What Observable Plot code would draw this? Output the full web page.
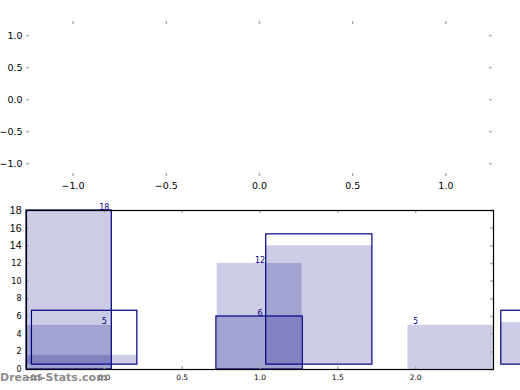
<!DOCTYPE html>
<html><head><meta charset="utf-8">
<script src="https://cdn.jsdelivr.net/npm/d3@7"></script>
<script src="https://cdn.jsdelivr.net/npm/@observablehq/plot@0.6"></script>
<style>
body{margin:0;background:#fff;}
#wrap{position:relative;width:520px;height:390px;overflow:hidden;background:#fff;}
#top,#bottom{position:absolute;left:0;}
#top{top:0}
#bottom{top:195px}
#wm{position:absolute;left:0;top:372px;font:bold 11px/11px "DejaVu Sans";color:#8c8c8c;white-space:nowrap}
</style></head><body>
<div id="wrap"><div id="top"></div><div id="bottom"></div><div id="wm">Dream-Stats.com</div></div>
<script>
// ---- data ----
const topXTicks = [-1.0, -0.5, 0.0, 0.5, 1.0];
const topYTicks = [1.0, 0.5, 0.0, -0.5, -1.0];
const botXTicks = [0.0, 0.5, 1.0, 1.5, 2.0];
const botXTickFirst = [-0.5];
const botYTicksLarge = [14, 16, 18];
const botYTicksSmall = [0, 2, 4, 6, 8, 10, 12];
const botYTicksAll = [0, 2, 4, 6, 8, 10, 12, 14, 16, 18];

// translucent filled bars
const fillX1 = [-0.5, -0.5, -0.5, 0.725, 0.72, 1.04, 1.95, 2.55];
const fillX2 = [0.048, 0.048, 0.212, 1.27, 1.275, 1.722, 2.5, 2.8];
const fillY1 = [0, 0, 0.55, 0, 0, 0.55, 0, 0.55];
const fillY2 = [18, 5, 1.6, 12, 6, 14.0, 5, 5.3];

// outlined bars
const lineX1 = [-0.5, -0.465, 0.72, 1.04, 2.55];
const lineX2 = [0.048, 0.212, 1.275, 1.722, 2.8];
const lineY1 = [0, 0.55, 0, 0.55, 0.55];
const lineY2 = [18, 6.65, 6, 15.3, 6.65];

// value labels
const labelX = [0, 0, 1, 1, 2];
const labelY = [18, 5, 12, 6, 5];
const labelText = ["18", "5", "12", "6", "5"];

// ---- drawing ----
const fmt1 = d3.format(".1f");
const tickColor = "#b0b0b0";
const navy = "#000080";

// top panel
const TW = 520, TH = 200, tm = {top: 21, right: 28, bottom: 24, left: 26};
const tfw = TW - tm.left - tm.right, tfh = TH - tm.top - tm.bottom;
const topPlot = Plot.plot({
  width: TW, height: TH,
  marginTop: tm.top, marginRight: tm.right, marginBottom: tm.bottom, marginLeft: tm.left,
  x: {domain: [-1.25, 1.25]},
  y: {domain: [-1.2, 1.22]},
  style: {fontFamily: "DejaVu Sans", fontSize: "9.5px", color: "#000", background: "transparent", overflow: "visible"},
  marks: [
    Plot.tickX(topXTicks, {x: d => d, stroke: tickColor, strokeWidth: 1.5, insetBottom: tfh - 3}),
    Plot.tickX(topXTicks, {x: d => d, stroke: tickColor, strokeWidth: 1.5, insetTop: tfh - 3}),
    Plot.tickY(topYTicks, {y: d => d, stroke: tickColor, strokeWidth: 1.5, insetRight: tfw - 3}),
    Plot.tickY(topYTicks, {y: d => d, stroke: tickColor, strokeWidth: 1.5, insetLeft: tfw - 3}),
    Plot.axisX({ticks: topXTicks, tickSize: 0, tickPadding: 6, tickFormat: fmt1, fill: "#000"}),
    Plot.axisY({ticks: topYTicks, tickSize: 0, tickPadding: 4, tickFormat: fmt1, fill: "#000"})
  ]
});
document.getElementById("top").append(topPlot);

// bottom panel
const BW = 520, BH = 195, bm = {top: 15, right: 27, bottom: 21, left: 26};
const bfw = BW - bm.left - bm.right, bfh = BH - bm.top - bm.bottom;
const fillIdx = d3.range(fillX1.length);
const lineIdx = d3.range(lineX1.length);
const labIdx = d3.range(labelX.length);
const botPlot = Plot.plot({
  width: BW, height: BH,
  marginTop: bm.top, marginRight: bm.right, marginBottom: bm.bottom, marginLeft: bm.left,
  x: {domain: [-0.5, 2.5]},
  y: {domain: [0, 18]},
  style: {fontFamily: "DejaVu Sans", fontSize: "8px", color: "#000", background: "transparent", overflow: "visible"},
  marks: [
    Plot.rect(fillIdx, {x1: i => fillX1[i], x2: i => fillX2[i], y1: i => fillY1[i], y2: i => fillY2[i], fill: navy, fillOpacity: 0.2}),
    Plot.rect(lineIdx, {x1: i => lineX1[i], x2: i => lineX2[i], y1: i => lineY1[i], y2: i => lineY2[i], fill: "none", stroke: navy, strokeWidth: 1.2}),
    Plot.tickX(botXTicks, {x: d => d, stroke: tickColor, strokeWidth: 1.5, insetBottom: bfh - 3}),
    Plot.tickX(botXTicks, {x: d => d, stroke: tickColor, strokeWidth: 1.5, insetTop: bfh - 3}),
    Plot.tickY(botYTicksAll, {y: d => d, stroke: tickColor, strokeWidth: 1.5, insetRight: bfw - 3}),
    Plot.tickY(botYTicksAll, {y: d => d, stroke: tickColor, strokeWidth: 1.5, insetLeft: bfw - 3}),
    Plot.frame({stroke: "#000", strokeWidth: 1.2}),
    Plot.axisY({ticks: botYTicksLarge, tickSize: 0, tickPadding: 5, fontSize: 10.5, fontFamily: "Liberation Sans", fill: "#000"}),
    Plot.axisY({ticks: botYTicksSmall, tickSize: 0, tickPadding: 5, fontSize: 8, fill: "#000"}),
    Plot.axisX({ticks: botXTicks, tickSize: 0, tickPadding: 5, tickFormat: fmt1, fontSize: 7.5, fill: "#000"}),
    Plot.axisX({ticks: botXTickFirst, tickSize: 0, tickPadding: 5, tickFormat: fmt1, fontSize: 7.5, dx: 7, fill: "#000"}),
    Plot.text(labIdx, {x: i => labelX[i], y: i => labelY[i], text: i => labelText[i], fill: navy, fontSize: 8, lineAnchor: "bottom", dy: -1})
  ]
});
document.getElementById("bottom").append(botPlot);
</script>
</body></html>
